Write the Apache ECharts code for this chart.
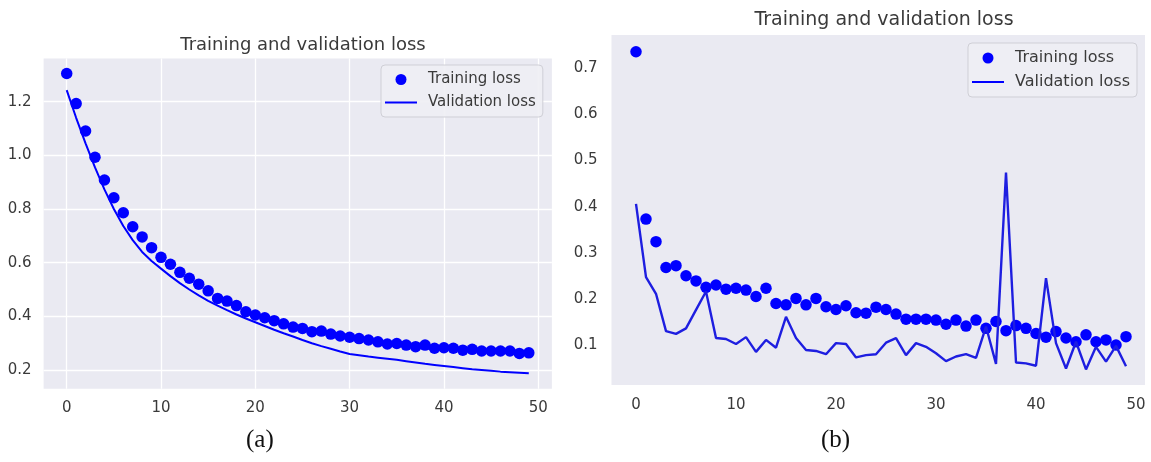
<!DOCTYPE html>
<html>
<head>
<meta charset="utf-8">
<script src="https://cdn.jsdelivr.net/npm/echarts@6/dist/echarts.min.js"></script>
<style>
  html, body { margin: 0; padding: 0; background: #ffffff; }
  #chart { width: 1151px; height: 462px; }
</style>
</head>
<body>
<div id="chart"></div>
<script>
// Epoch numbers shared by both runs
const epochs = [0, 1, 2, 3, 4, 5, 6, 7, 8, 9, 10, 11, 12, 13, 14, 15, 16, 17, 18, 19,
  20, 21, 22, 23, 24, 25, 26, 27, 28, 29, 30, 31, 32, 33, 34, 35, 36, 37, 38, 39,
  40, 41, 42, 43, 44, 45, 46, 47, 48, 49];

// Run (a): smooth convergence
const trainLossA = [1.305, 1.193, 1.091, 0.993, 0.908, 0.842, 0.786, 0.734, 0.696, 0.656,
  0.620, 0.594, 0.564, 0.542, 0.520, 0.495, 0.467, 0.457, 0.440, 0.417,
  0.405, 0.395, 0.384, 0.372, 0.360, 0.355, 0.343, 0.345, 0.334, 0.327,
  0.322, 0.317, 0.312, 0.305, 0.297, 0.299, 0.293, 0.287, 0.293, 0.281,
  0.283, 0.281, 0.274, 0.277, 0.271, 0.271, 0.271, 0.271, 0.262, 0.264];
const valLossA = [1.243, 1.140, 1.045, 0.955, 0.873, 0.800, 0.737, 0.684, 0.640, 0.606,
  0.578, 0.550, 0.524, 0.500, 0.478, 0.458, 0.440, 0.423, 0.407, 0.392,
  0.378, 0.364, 0.350, 0.337, 0.325, 0.312, 0.300, 0.289, 0.279, 0.269,
  0.260, 0.255, 0.250, 0.246, 0.242, 0.238, 0.233, 0.228, 0.223, 0.219,
  0.215, 0.211, 0.207, 0.203, 0.200, 0.197, 0.194, 0.192, 0.190, 0.188];

// Run (b): noisy validation curve
const trainLossB = [0.736, 0.373, 0.324, 0.268, 0.272, 0.250, 0.239, 0.225, 0.230, 0.221,
  0.223, 0.219, 0.205, 0.223, 0.190, 0.187, 0.201, 0.187, 0.201, 0.183,
  0.177, 0.185, 0.170, 0.169, 0.182, 0.177, 0.167, 0.156, 0.156, 0.156,
  0.154, 0.145, 0.154, 0.141, 0.154, 0.136, 0.151, 0.131, 0.142, 0.136,
  0.125, 0.117, 0.129, 0.115, 0.107, 0.122, 0.107, 0.111, 0.100, 0.118];
const valLossB = [0.406, 0.247, 0.211, 0.130, 0.124, 0.136, 0.176, 0.216, 0.115, 0.113,
  0.102, 0.117, 0.085, 0.111, 0.094, 0.161, 0.115, 0.089, 0.087, 0.080,
  0.104, 0.102, 0.073, 0.078, 0.080, 0.105, 0.115, 0.078, 0.104, 0.096,
  0.082, 0.065, 0.075, 0.080, 0.072, 0.140, 0.059, 0.474, 0.062, 0.060,
  0.055, 0.245, 0.104, 0.049, 0.107, 0.047, 0.096, 0.064, 0.098, 0.054];

// Tick labels
const xTicks = [0, 10, 20, 30, 40, 50];
const yTicksA = [0.2, 0.4, 0.6, 0.8, 1.0, 1.2];
const yTicksB = [0.1, 0.2, 0.3, 0.4, 0.5, 0.6, 0.7];

const chartTitle = 'Training and validation loss';
const seriesNames = ['Training loss', 'Validation loss'];
const panelCaptions = ['(a)', '(b)'];

const FONT = '"DejaVu Sans", sans-serif';
const TEXT = '#3a3a3a';
const BG = '#EAEAF2';
const BLUE = '#0000ff';

const pairs = (ys) => epochs.map((e, i) => [e, ys[i]]);

const lineIcon = 'path://M0,0H32V2H0Z';

function xAxisFor(idx, min, max, grid, margin) {
  return {
    type: 'value', gridIndex: idx, min: min, max: max,
    axisLine: { show: false },
    axisTick: { show: false, customValues: xTicks },
    axisLabel: { customValues: xTicks, color: TEXT, fontFamily: FONT, fontSize: 15, margin: margin },
    splitLine: { show: grid, lineStyle: { color: '#ffffff', width: 1.3 } }
  };
}
function yAxisFor(idx, min, max, ticks, grid, margin) {
  return {
    type: 'value', gridIndex: idx, min: min, max: max,
    axisLine: { show: false },
    axisTick: { show: false, customValues: ticks },
    axisLabel: {
      customValues: ticks, color: TEXT, fontFamily: FONT, fontSize: 15, margin: margin,
      formatter: (v) => v.toFixed(1)
    },
    splitLine: { show: grid, lineStyle: { color: '#ffffff', width: 1.3 } }
  };
}
function legendFor(left, top, fontSize, gap) {
  return {
    orient: 'vertical', left: left, top: top,
    backgroundColor: 'rgba(238,238,244,0.9)', borderColor: '#cfcfd6', borderWidth: 1, borderRadius: 4,
    padding: [7, 7, 7, 4], itemGap: gap, itemWidth: 32, itemHeight: 11,
    textStyle: { color: TEXT, fontFamily: FONT, fontSize: fontSize, padding: [0, 0, 0, 6] },
    data: [
      { name: seriesNames[0], icon: 'circle' },
      { name: seriesNames[1], icon: lineIcon }
    ]
  };
}

const chart = echarts.init(document.getElementById('chart'), null, { renderer: 'canvas' });

chart.setOption({
  animation: false,
  backgroundColor: '#ffffff',
  title: [
    { text: chartTitle, left: 298, top: 31, textAlign: 'center',
      textStyle: { color: TEXT, fontFamily: FONT, fontSize: 18, fontWeight: 'normal' } },
    { text: chartTitle, left: 879, top: 6, textAlign: 'center',
      textStyle: { color: TEXT, fontFamily: FONT, fontSize: 19, fontWeight: 'normal' } }
  ],
  legend: [
    legendFor(381, 65, 15, 8),
    legendFor(968, 43, 16, 8)
  ],
  grid: [
    { left: 43.6, top: 58.5, width: 508.3, height: 330.3, show: true, backgroundColor: BG, borderWidth: 0 },
    { left: 611.5, top: 35.1, width: 533.5, height: 349.9, show: true, backgroundColor: BG, borderWidth: 0 }
  ],
  xAxis: [
    xAxisFor(0, -2.45, 51.45, true, 12),
    xAxisFor(1, -2.45, 50.9, false, 13)
  ],
  yAxis: [
    yAxisFor(0, 0.130, 1.361, yTicksA, true, 12),
    yAxisFor(1, 0.0132, 0.772, yTicksB, false, 14)
  ],
  series: [
    { name: seriesNames[0], type: 'scatter', xAxisIndex: 0, yAxisIndex: 0,
      symbol: 'circle', symbolSize: 11.5, itemStyle: { color: BLUE, opacity: 1 }, data: pairs(trainLossA) },
    { name: seriesNames[1], type: 'line', xAxisIndex: 0, yAxisIndex: 0, showSymbol: false, smooth: false,
      lineStyle: { color: BLUE, width: 2 }, itemStyle: { color: BLUE }, data: pairs(valLossA) },
    { name: seriesNames[0], type: 'scatter', xAxisIndex: 1, yAxisIndex: 1,
      symbol: 'circle', symbolSize: 11.5, itemStyle: { color: BLUE, opacity: 1 }, data: pairs(trainLossB) },
    { name: seriesNames[1], type: 'line', xAxisIndex: 1, yAxisIndex: 1, showSymbol: false, smooth: false,
      lineStyle: { color: '#1e1ee0', width: 2.4 }, itemStyle: { color: BLUE }, data: pairs(valLossB) }
  ],
  graphic: [
    { type: 'text', left: 246, top: 428,
      style: { text: panelCaptions[0], fontFamily: '"Liberation Serif", "DejaVu Serif", serif', fontSize: 25, fill: '#111111' } },
    { type: 'text', left: 821, top: 428,
      style: { text: panelCaptions[1], fontFamily: '"Liberation Serif", "DejaVu Serif", serif', fontSize: 25, fill: '#111111' } }
  ]
});
</script>
</body>
</html>
